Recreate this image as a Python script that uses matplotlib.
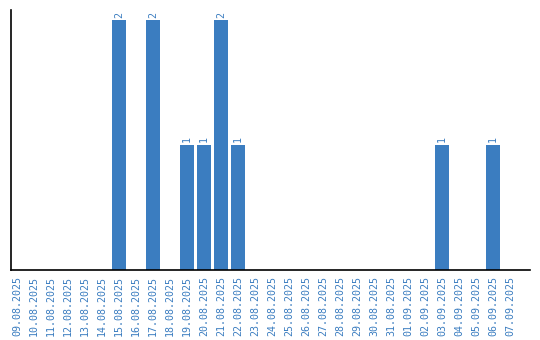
import matplotlib
matplotlib.use("Agg")
import matplotlib.pyplot as plt

dates = ["09.08.2025", "10.08.2025", "11.08.2025", "12.08.2025", "13.08.2025",
         "14.08.2025", "15.08.2025", "16.08.2025", "17.08.2025", "18.08.2025",
         "19.08.2025", "20.08.2025", "21.08.2025", "22.08.2025", "23.08.2025",
         "24.08.2025", "25.08.2025", "26.08.2025", "27.08.2025", "28.08.2025",
         "29.08.2025", "30.08.2025", "31.08.2025", "01.09.2025", "02.09.2025",
         "03.09.2025", "04.09.2025", "05.09.2025", "06.09.2025", "07.09.2025"]
values = [0, 0, 0, 0, 0, 0, 2, 0, 2, 0, 1, 1, 2, 1, 0,
          0, 0, 0, 0, 0, 0, 0, 0, 0, 0, 1, 0, 0, 1, 0]

color = "#3b7dc0"
font = "DejaVu Sans Mono"

fig = plt.figure(figsize=(5.4, 3.4), dpi=100)
ax = fig.add_axes([11/540, 1 - 270/340, (530 - 11)/540, (270 - 10)/340])

x = list(range(len(dates)))
bars = ax.bar(x, values, width=0.82, color=color)
for xi, v in zip(x, values):
    if v > 0:
        ax.text(xi, v + 0.02, str(v), rotation=90, ha="center", va="bottom",
                color=color, fontsize=7.2, family=font)

ax.set_xlim(-0.35, 30.18)
ax.set_ylim(0, 2.08)
ax.set_xticks(x)
ax.set_xticklabels(dates, rotation=90, color=color, fontsize=7.2, family=font)
ax.tick_params(axis="x", length=0, pad=4)
ax.set_yticks([])
for s in ["top", "right"]:
    ax.spines[s].set_visible(False)
for s in ["left", "bottom"]:
    ax.spines[s].set_color("black")
    ax.spines[s].set_linewidth(1.2)

fig.savefig("out.png", dpi=100)
